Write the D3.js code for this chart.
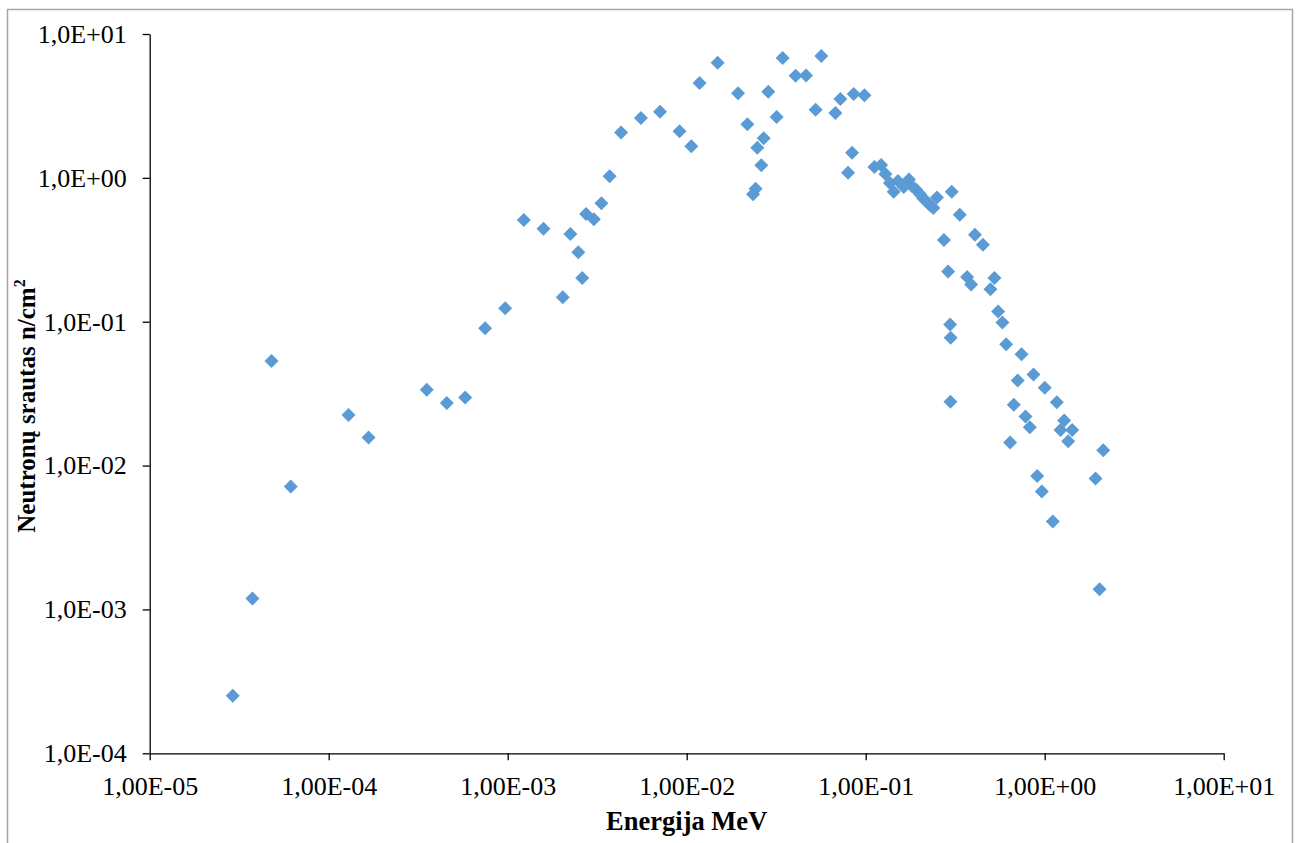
<!DOCTYPE html>
<html>
<head>
<meta charset="utf-8">
<script src="https://cdn.jsdelivr.net/npm/d3@7"></script>
<style>
  html, body { margin: 0; padding: 0; background: #ffffff; }
  svg { display: block; }
  text { font-family: "Times New Roman", "Liberation Serif", serif; fill: #000; }
</style>
</head>
<body>
<svg id="chart" width="1299" height="843"></svg>
<script>
// Neutron energy (MeV) and flux (n/cm²) for each measured point
const energyMeV = [
  2.91e-5, 3.75e-5, 4.79e-5, 6.14e-5, 1.29e-4, 1.67e-4, 3.53e-4, 4.57e-4, 5.79e-4, 7.48e-4,
  9.68e-4, 1.23e-3, 1.585e-3, 2.03e-3, 2.24e-3, 2.48e-3, 2.61e-3, 2.74e-3, 3.03e-3, 3.34e-3,
  3.71e-3, 4.30e-3, 5.55e-3, 7.10e-3, 9.12e-3, 0.01061, 0.0118, 0.01489, 0.01936, 0.02182,
  0.02348, 0.02427, 0.02481, 0.02612, 0.02692, 0.02858, 0.0318, 0.03436, 0.0406, 0.04645,
  0.0525, 0.0565, 0.0677, 0.0722, 0.0797, 0.0839, 0.0857, 0.0983,
  0.1119, 0.1219, 0.1288, 0.1365, 0.1434, 0.1514, 0.1631, 0.1744, 0.1812, 0.1909,
  0.2009, 0.2088, 0.2184, 0.2299, 0.2389, 0.250,
  0.3024, 0.3352, 0.2735, 0.4077, 0.4519, 0.2888, 0.3688, 0.388, 0.524, 0.4977,
  0.5495, 0.5807, 0.2963, 0.2985, 0.6091, 0.742, 0.866, 0.7073, 1.001, 0.2975,
  1.169, 0.672, 0.781, 0.8255, 1.285, 1.424, 1.225, 1.353, 0.641, 2.123,
  0.908, 1.923, 0.9634, 1.110, 2.025
];
const fluxNcm2 = [
  2.51e-4, 1.19e-3, 0.0534, 7.15e-3, 0.0225, 0.0157, 0.0336, 0.0272, 0.0297, 0.0901,
  0.124, 0.510, 0.443, 0.148, 0.407, 0.304, 0.2016, 0.561, 0.516, 0.666,
  1.026, 2.07, 2.61, 2.88, 2.11, 1.66, 4.57, 6.32, 3.87, 2.36,
  0.769, 0.841, 1.62, 1.224, 1.885, 3.97, 2.65, 6.81, 5.13, 5.15,
  2.98, 7.03, 2.82, 3.53, 1.087, 1.497, 3.83, 3.75,
  1.19, 1.23, 1.064, 0.922, 0.802, 0.952, 0.865, 0.975, 0.878, 0.831,
  0.773, 0.725, 0.686, 0.643, 0.618, 0.731,
  0.802, 0.555, 0.370, 0.403, 0.343, 0.2237, 0.2048, 0.1816, 0.2016, 0.168,
  0.118, 0.0986, 0.0958, 0.0775, 0.0698, 0.0594, 0.0429, 0.0390, 0.0347, 0.0278,
  0.0276, 0.0265, 0.0219, 0.0185, 0.02055, 0.0177, 0.0177, 0.01478, 0.01445, 0.0128,
  8.48e-3, 8.12e-3, 6.60e-3, 4.08e-3, 1.38e-3
];

// Axis tick values (decades)
const xTicks = [1e-5, 1e-4, 1e-3, 1e-2, 1e-1, 1e0, 1e1];
const yTicks = [1e-4, 1e-3, 1e-2, 1e-1, 1e0, 1e1];

const xTitle = "Energija MeV";
const yTitle = "Neutronų srautas n/cm";
const yTitleSup = "2";

const points = energyMeV.map((e, i) => ({ e, f: fluxNcm2[i] }));

const svg = d3.select("#chart");

// Outer chart frame
svg.append("rect")
  .attr("x", 7.5).attr("y", 9.5)
  .attr("width", 1285).attr("height", 900)
  .attr("fill", "none")
  .attr("stroke", "#a6a6a6")
  .attr("stroke-width", 1.5);

const plot = { left: 149.7, right: 1223.7, top: 34, bottom: 753.3 };

const x = d3.scaleLog().domain([1e-5, 1e1]).range([plot.left, plot.right]);
const y = d3.scaleLog().domain([1e-4, 1e1]).range([plot.bottom, plot.top]);

// Scientific notation with a decimal comma, e.g. 1,00E-05
function sci(v, decimals) {
  const exp = Math.round(Math.log10(v));
  const mant = (v / Math.pow(10, exp)).toFixed(decimals).replace(".", ",");
  const sign = exp < 0 ? "-" : "+";
  return mant + "E" + sign + String(Math.abs(exp)).padStart(2, "0");
}

const xAxis = d3.axisBottom(x)
  .tickValues(xTicks)
  .tickSizeInner(7).tickSizeOuter(0)
  .tickPadding(16)
  .tickFormat(d => sci(d, 2));

const yAxis = d3.axisLeft(y)
  .tickValues(yTicks)
  .tickSizeInner(7).tickSizeOuter(0)
  .tickPadding(16)
  .tickFormat(d => sci(d, 1));

const gx = svg.append("g")
  .attr("transform", `translate(0,${plot.bottom})`)
  .call(xAxis);
const gy = svg.append("g")
  .attr("transform", `translate(${plot.left},0)`)
  .call(yAxis);

[gx, gy].forEach(g => {
  g.selectAll("path.domain").attr("stroke", "#000").attr("stroke-width", 1.3);
  g.selectAll(".tick line").attr("stroke", "#000").attr("stroke-width", 1.3);
  g.selectAll(".tick text")
    .attr("font-family", "'Times New Roman', 'Liberation Serif', serif")
    .attr("font-size", 26)
    .attr("fill", "#000");
});

// Data markers: blue diamonds
const diamond = d3.symbol().type(d3.symbolSquare).size(98);
svg.append("g")
  .selectAll("path")
  .data(points)
  .join("path")
  .attr("d", diamond)
  .attr("transform", d => `translate(${x(d.e)},${y(d.f)}) rotate(45)`)
  .attr("fill", "#5b9bd5");

// Axis titles
svg.append("text")
  .attr("x", (plot.left + plot.right) / 2)
  .attr("y", 830)
  .attr("text-anchor", "middle")
  .attr("font-size", 26.5)
  .attr("font-weight", "bold")
  .text(xTitle);

const yt = svg.append("text")
  .attr("transform", "translate(35,406) rotate(-90)")
  .attr("text-anchor", "middle")
  .attr("font-size", 25)
  .attr("font-weight", "bold");
yt.append("tspan").text(yTitle);
yt.append("tspan")
  .attr("font-size", 16)
  .attr("dy", -10)
  .text(yTitleSup);
</script>
</body>
</html>
